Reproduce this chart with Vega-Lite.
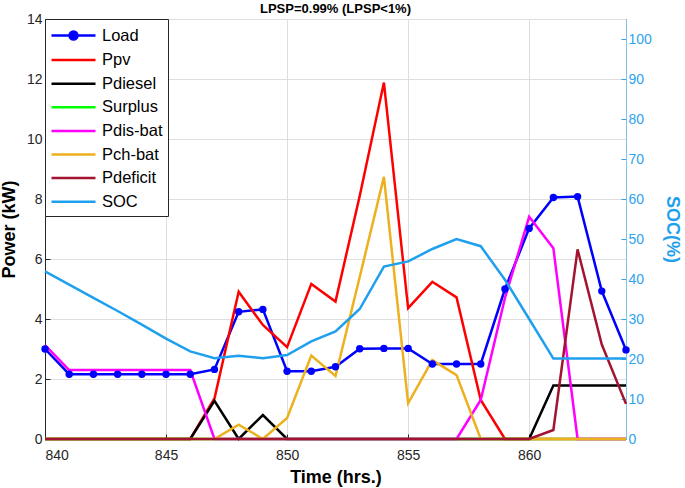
{
  "$schema": "https://vega.github.io/schema/vega-lite/v6.json",
  "width": 581,
  "height": 420,
  "autosize": {"type": "none"},
  "padding": {"left": 45, "top": 19, "right": 59, "bottom": 49},
  "background": "white",
  "title": {
    "text": "LPSP=0.99% (LPSP<1%)",
    "font": "Liberation Sans",
    "fontSize": 13,
    "fontWeight": "bold",
    "color": "#000000",
    "anchor": "middle",
    "offset": -4
  },
  "data": {
    "values": [
      {"t": 840, "Load": 3.0, "Ppv": 0, "Pdiesel": 0, "Surplus": 0, "Pdis-bat": 3.13, "Pch-bat": 0, "Pdeficit": 0, "SOC": 41.9},
      {"t": 841, "Load": 2.16, "Ppv": 0, "Pdiesel": 0, "Surplus": 0, "Pdis-bat": 2.3, "Pch-bat": 0, "Pdeficit": 0, "SOC": 38.6},
      {"t": 842, "Load": 2.16, "Ppv": 0, "Pdiesel": 0, "Surplus": 0, "Pdis-bat": 2.3, "Pch-bat": 0, "Pdeficit": 0, "SOC": 35.3},
      {"t": 843, "Load": 2.16, "Ppv": 0, "Pdiesel": 0, "Surplus": 0, "Pdis-bat": 2.3, "Pch-bat": 0, "Pdeficit": 0, "SOC": 32.0},
      {"t": 844, "Load": 2.16, "Ppv": 0, "Pdiesel": 0, "Surplus": 0, "Pdis-bat": 2.3, "Pch-bat": 0, "Pdeficit": 0, "SOC": 28.6},
      {"t": 845, "Load": 2.16, "Ppv": 0, "Pdiesel": 0, "Surplus": 0, "Pdis-bat": 2.3, "Pch-bat": 0, "Pdeficit": 0, "SOC": 25.1},
      {"t": 846, "Load": 2.16, "Ppv": 0, "Pdiesel": 0, "Surplus": 0, "Pdis-bat": 2.3, "Pch-bat": 0, "Pdeficit": 0, "SOC": 21.9},
      {"t": 847, "Load": 2.32, "Ppv": 1.35, "Pdiesel": 1.27, "Surplus": 0, "Pdis-bat": 0, "Pch-bat": 0, "Pdeficit": 0, "SOC": 20.2},
      {"t": 848, "Load": 4.24, "Ppv": 4.91, "Pdiesel": 0, "Surplus": 0, "Pdis-bat": 0, "Pch-bat": 0.48, "Pdeficit": 0, "SOC": 20.8},
      {"t": 849, "Load": 4.32, "Ppv": 3.8, "Pdiesel": 0.8, "Surplus": 0, "Pdis-bat": 0, "Pch-bat": 0, "Pdeficit": 0, "SOC": 20.2},
      {"t": 850, "Load": 2.26, "Ppv": 3.06, "Pdiesel": 0, "Surplus": 0, "Pdis-bat": 0, "Pch-bat": 0.7, "Pdeficit": 0, "SOC": 21.0},
      {"t": 851, "Load": 2.26, "Ppv": 5.17, "Pdiesel": 0, "Surplus": 0, "Pdis-bat": 0, "Pch-bat": 2.78, "Pdeficit": 0, "SOC": 24.4},
      {"t": 852, "Load": 2.41, "Ppv": 4.58, "Pdiesel": 0, "Surplus": 0, "Pdis-bat": 0, "Pch-bat": 2.1, "Pdeficit": 0, "SOC": 26.9},
      {"t": 853, "Load": 3.01, "Ppv": 8.1, "Pdiesel": 0, "Surplus": 0, "Pdis-bat": 0, "Pch-bat": 5.4, "Pdeficit": 0, "SOC": 32.5},
      {"t": 854, "Load": 3.02, "Ppv": 11.88, "Pdiesel": 0, "Surplus": 0, "Pdis-bat": 0, "Pch-bat": 8.74, "Pdeficit": 0, "SOC": 43.1},
      {"t": 855, "Load": 3.02, "Ppv": 4.36, "Pdiesel": 0, "Surplus": 0, "Pdis-bat": 0, "Pch-bat": 1.19, "Pdeficit": 0, "SOC": 44.4},
      {"t": 856, "Load": 2.5, "Ppv": 5.24, "Pdiesel": 0, "Surplus": 0, "Pdis-bat": 0, "Pch-bat": 2.63, "Pdeficit": 0, "SOC": 47.5},
      {"t": 857, "Load": 2.5, "Ppv": 4.72, "Pdiesel": 0, "Surplus": 0, "Pdis-bat": 0, "Pch-bat": 2.13, "Pdeficit": 0, "SOC": 50.0},
      {"t": 858, "Load": 2.5, "Ppv": 1.3, "Pdiesel": 0, "Surplus": 0, "Pdis-bat": 1.3, "Pch-bat": 0, "Pdeficit": 0, "SOC": 48.2},
      {"t": 859, "Load": 5.0, "Ppv": 0, "Pdiesel": 0, "Surplus": 0, "Pdis-bat": 4.7, "Pch-bat": 0, "Pdeficit": 0, "SOC": 39.8},
      {"t": 860, "Load": 7.02, "Ppv": 0, "Pdiesel": 0, "Surplus": 0, "Pdis-bat": 7.41, "Pch-bat": 0, "Pdeficit": 0, "SOC": 30.0},
      {"t": 861, "Load": 8.05, "Ppv": 0, "Pdiesel": 1.78, "Surplus": 0, "Pdis-bat": 6.36, "Pch-bat": 0, "Pdeficit": 0.3, "SOC": 20.1},
      {"t": 862, "Load": 8.08, "Ppv": 0, "Pdiesel": 1.78, "Surplus": 0, "Pdis-bat": 0, "Pch-bat": 0, "Pdeficit": 6.32, "SOC": 20.1},
      {"t": 863, "Load": 4.93, "Ppv": 0, "Pdiesel": 1.78, "Surplus": 0, "Pdis-bat": 0, "Pch-bat": 0, "Pdeficit": 3.15, "SOC": 20.1},
      {"t": 864, "Load": 2.97, "Ppv": 0, "Pdiesel": 1.78, "Surplus": 0, "Pdis-bat": 0, "Pch-bat": 0, "Pdeficit": 1.17, "SOC": 20.1}
    ]
  },
  "config": {
    "font": "Liberation Sans",
    "view": {"stroke": "#262626", "strokeWidth": 1},
    "axis": {
      "labelFont": "Liberation Sans",
      "labelFontSize": 14,
      "labelColor": "#262626",
      "titleFont": "Liberation Sans",
      "titleFontSize": 18,
      "titleFontWeight": "bold",
      "titleColor": "#000000",
      "domainColor": "#262626",
      "tickColor": "#262626",
      "gridColor": "#dedede",
      "gridWidth": 1,
      "tickSize": -5
    }
  },
  "layer": [
    {
      "transform": [
        {"fold": ["Load", "Ppv", "Pdiesel", "Surplus", "Pdis-bat", "Pch-bat", "Pdeficit"], "as": ["series", "value"]}
      ],
      "encoding": {
        "x": {
          "field": "t",
          "type": "quantitative",
          "scale": {"domain": [840, 864], "nice": false, "zero": false},
          "axis": {"title": "Time (hrs.)", "values": [840, 845, 850, 855, 860], "labelPadding": 14, "titlePadding": 6, "grid": true}
        },
        "y": {
          "field": "value",
          "type": "quantitative",
          "scale": {"domain": [0, 14], "nice": false},
          "axis": {"title": "Power (kW)", "values": [0, 2, 4, 6, 8, 10, 12, 14], "labelPadding": 8, "titlePadding": 8, "grid": true}
        }
      },
      "layer": [
        {
          "mark": {"type": "line", "strokeWidth": 2.5},
          "encoding": {
            "color": {
              "field": "series",
              "type": "nominal",
              "scale": {
                "domain": ["Load", "Ppv", "Pdiesel", "Surplus", "Pdis-bat", "Pch-bat", "Pdeficit", "SOC"],
                "range": ["#0000ff", "#ff0000", "#000000", "#00ff00", "#ff00ff", "#edb120", "#a2142f", "#1fa0ee"]
              },
              "legend": {
                "title": null,
                "orient": "top-left",
                "offset": 0,
                "padding": 5,
                "fillColor": "white",
                "strokeColor": "#262626",
                "cornerRadius": 0,
                "symbolType": "M-1,0H3.4",
                "symbolSize": 400,
                "symbolStrokeWidth": 2.5,
                "labelFont": "Liberation Sans",
                "labelFontSize": 16.5,
                "labelColor": "#000000",
                "labelOffset": 29,
                "labelLimit": 200,
                "rowPadding": 3.6,
                "encode": {
                  "symbols": {
                    "update": {
                      "shape": {"signal": "datum.value === 'Load' ? 'M-1,0H3.4M0.8,0A0.4,0.4 0 1,0 1.6,0A0.4,0.4 0 1,0 0.8,0Z' : 'M-1,0H3.4'"},
                      "fill": {"signal": "datum.value === 'Load' ? '#0000ff' : 'transparent'"}
                    }
                  }
                }
              }
            },
            "strokeWidth": {"condition": {"test": "datum.series === 'Load'", "value": 3}, "value": 2.5}
          }
        },
        {
          "transform": [{"filter": "datum.series === 'Load'"}],
          "mark": {"type": "point", "filled": true, "size": 55, "color": "#0000ff", "opacity": 1}
        }
      ]
    },
    {
      "transform": [{"fold": ["SOC"], "as": ["series", "soc"]}],
      "mark": {"type": "line", "strokeWidth": 2.5},
      "encoding": {
        "x": {"field": "t", "type": "quantitative"},
        "y": {
          "field": "soc",
          "type": "quantitative",
          "scale": {"domain": [0, 105], "nice": false},
          "axis": {
            "orient": "right",
            "title": "SOC(%)",
            "values": [0, 10, 20, 30, 40, 50, 60, 70, 80, 90, 100],
            "grid": false,
            "labelColor": "#2ea3ee",
            "domainColor": "#7cc4f0",
            "tickColor": "#2ea3ee",
            "titleColor": "#1fa0ee",
            "labelPadding": 7,
            "titlePadding": 11
          }
        },
        "color": {"field": "series", "type": "nominal"}
      }
    }
  ],
  "resolve": {"scale": {"y": "independent"}}
}
